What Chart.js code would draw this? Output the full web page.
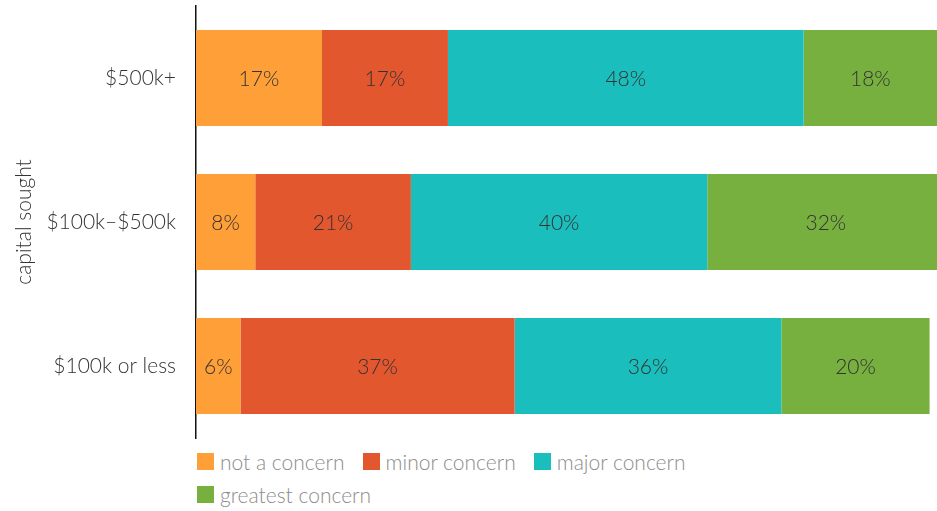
<!DOCTYPE html>
<html>
<head>
<meta charset="utf-8">
<script src="https://cdn.jsdelivr.net/npm/chart.js@4.4.1/dist/chart.umd.min.js"></script>
<style>
  body { margin: 0; background: #fff; font-family: Lato, "Open Sans", sans-serif; }
  #wrap { position: relative; width: 937px; height: 511px; }
  #box { position: absolute; left: 0; top: 0; width: 937px; height: 445px; }
  #legend { position: absolute; left: 197px; top: 445px; width: 540px; }
  .item { display: inline-flex; align-items: center; margin-right: 14px; height: 33px; color: #8c8c8c; font-size: 21px; font-weight: 300; }
  .swatch { width: 17px; height: 17px; margin-right: 6px; }
</style>
</head>
<body>
<div id="wrap">
  <div id="box"><canvas id="concern-chart"></canvas></div>
  <div id="legend"></div>
</div>
<script>
const categories = ["$500k+", "$100k\u2013$500k", "$100k or less"];
const seriesNames = ["not a concern", "minor concern", "major concern", "greatest concern"];
const notConcern = [17, 8, 6];
const minorConcern = [17, 21, 37];
const majorConcern = [48, 40, 36];
const greatestConcern = [18, 32, 20];
const colors = ['#FF9F38', '#E3572F', '#1ABEBC', '#78B040'];

const fontFamily = 'Lato, "Open Sans", sans-serif';

//labels in the middle of each segment
const barLabels = {
  id: 'barLabels',
  afterDatasetsDraw(chart) {
    const ctx = chart.ctx;
    ctx.save();
    ctx.font = '300 21px ' + fontFamily;
    ctx.fillStyle = '#333';
    ctx.textAlign = 'center';
    ctx.textBaseline = 'middle';
    chart.data.datasets.forEach((ds, i) => {
      chart.getDatasetMeta(i).data.forEach((bar, j) => {
        const x = (bar.x + bar.base) / 2;
        ctx.fillText(ds.data[j] + '%', x, bar.y + 1);
      });
    });
    ctx.restore();
  }
};

const concernData = {
  labels: categories,
  datasets: [notConcern, minorConcern, majorConcern, greatestConcern].map((d, i) => ({
    label: seriesNames[i],
    data: d,
    backgroundColor: colors[i],
    borderWidth: 0,
    categoryPercentage: 1,
    barPercentage: 0.667
  }))
};

const concernOptions = {
  indexAxis: 'y',
  responsive: true,
  maintainAspectRatio: false,
  animation: false,
  layout: { padding: { top: 6, bottom: 7, right: 0 } },
  scales: {
    x: {
      stacked: true,
      min: 0,
      max: 100,
      display: false
    },
    y: {
      stacked: true,
      afterFit: scale => {
        scale.width = 196;
        // no extra room above/below for the tick labels
        scale.paddingTop = 0;
        scale.paddingBottom = 0;
      },
      grid: { display: false, drawTicks: false },
      border: { display: true, color: '#111', width: 1.5 },
      ticks: {
        padding: 20,
        color: '#333',
        font: { family: fontFamily, size: 21, weight: 300 }
      },
      title: {
        display: true,
        text: 'capital sought',
        color: '#333',
        padding: { top: 12, bottom: 0 },
        font: { family: fontFamily, size: 21, weight: 300 }
      }
    }
  },
  plugins: {
    legend: { display: false },
    tooltip: { enabled: false }
  }
};

let concernChart = new Chart(document.getElementById('concern-chart'), {
  type: 'bar',
  data: concernData,
  options: concernOptions,
  plugins: [barLabels]
});

//legend built from the datasets
const legendBox = document.getElementById('legend');
legendBox.innerHTML = concernData.datasets.map(ds => `
    <span class="item"><span class="swatch" style="background:${ds.backgroundColor}"></span>${ds.label}</span>`).join('');
</script>
</body>
</html>
